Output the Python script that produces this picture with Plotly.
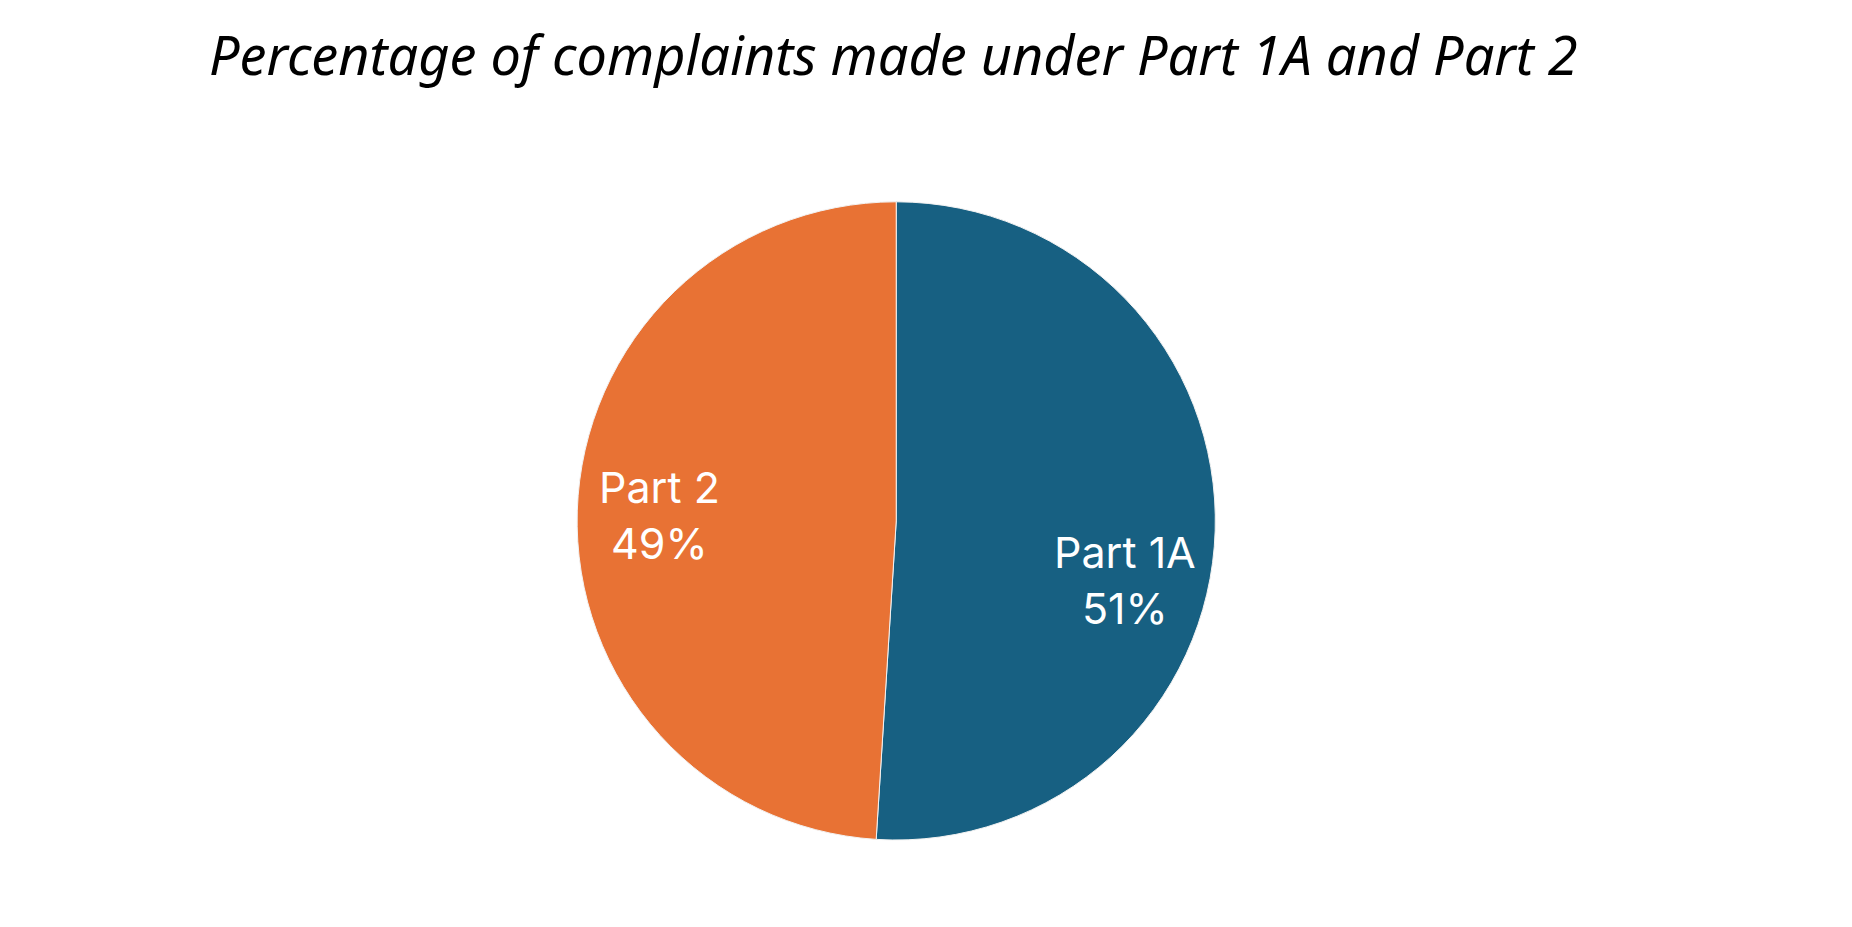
import plotly.graph_objects as go

labels = ["Part 1A", "Part 2"]
values = [51, 49]
colors = ["#176082", "#E87234"]
# where the data labels sit, in paper fractions
label_x = [0.603, 0.352]
label_y = [0.383, 0.453]

fig = go.Figure()

# Part 1A starts at 12 o'clock and runs clockwise
fig.add_trace(
    go.Pie(
        labels=labels,
        values=values,
        sort=False,
        direction="clockwise",
        rotation=0,
        marker=dict(colors=colors, line=dict(color="#f2f2f2", width=1)),
        textinfo="none",
        domain=dict(x=[0.3073, 0.6519], y=[0.1024, 0.7910]),
        showlegend=False,
        hoverinfo="label+percent",
    )
)

total = sum(values)
for lab, val, lx, ly in zip(labels, values, label_x, label_y):
    fig.add_annotation(
        text=f"{lab}<br>{round(val / total * 100)}%",
        x=lx,
        y=ly,
        xref="paper",
        yref="paper",
        showarrow=False,
        font=dict(family="Inter, Liberation Sans, Arial", size=43, color="white"),
        align="center",
    )

fig.update_layout(
    title=dict(
        text="<i>Percentage of complaints made under Part 1A and Part 2</i>",
        font=dict(family="Noto Sans, Open Sans, sans-serif", size=54, color="black"),
        x=0.478,
        xanchor="center",
        y=0.948,
        yanchor="middle",
    ),
    width=1852,
    height=927,
    margin=dict(l=0, r=0, t=0, b=0),
    paper_bgcolor="white",
    plot_bgcolor="white",
)

fig.write_html("out.html")
